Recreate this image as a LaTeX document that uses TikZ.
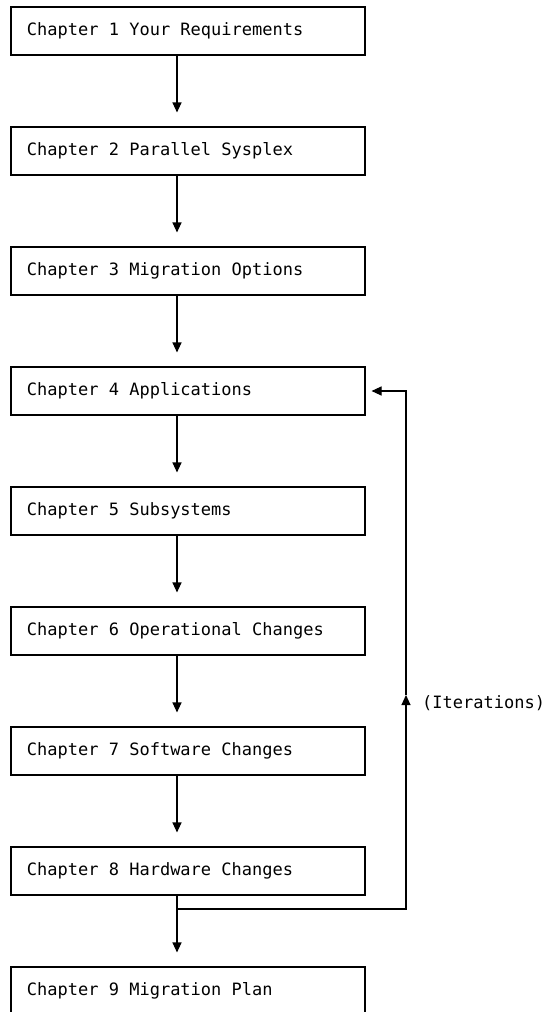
\documentclass[tikz,border=0pt]{standalone}
\usepackage{fontspec}
\setmonofont{DejaVu Sans Mono}
\usetikzlibrary{positioning, arrows.meta}
\tikzset{
  chap/.style={rectangle, draw=black, line width=1.1pt, fill=white,
    text width=322pt, inner xsep=16pt, inner ysep=0pt, minimum height=48pt,
    align=left, font=\fontsize{17}{20}\ttfamily,
    execute at begin node={\spaceskip=10.23pt\relax}},
  flow/.style={-{Triangle[length=10pt, width=9pt]}, line width=1.1pt, black},
  lbl/.style={font=\fontsize{17}{20}\ttfamily, inner sep=3pt},
}
\begin{document}
\begin{tikzpicture}[x=1pt, y=-1pt, node distance=70.9pt]
    \useasboundingbox (0,0) rectangle (546,1012);
    \node[chap] at (188,31) (c1) {Chapter 1 Your Requirements};
    \node[chap, below=of c1] (c2) {Chapter 2 Parallel Sysplex};
    \node[chap, below=of c2] (c3) {Chapter 3 Migration Options};
    \node[chap, below=of c3] (c4) {Chapter 4 Applications};
    \node[chap, below=of c4] (c5) {Chapter 5 Subsystems};
    \node[chap, below=of c5] (c6) {Chapter 6 Operational Changes};
    \node[chap, below=of c6] (c7) {Chapter 7 Software Changes};
    \node[chap, below=of c7] (c8) {Chapter 8 Hardware Changes};
    \node[chap, below=of c8] (c9) {Chapter 9 Migration Plan};
    % arrows run left of the box centres
    \coordinate (spine) at (177,0);
    \draw[flow, shorten >=14pt] (c1.south -| spine) -- (c2.north -| spine);
    \draw[flow, shorten >=14pt] (c2.south -| spine) -- (c3.north -| spine);
    \draw[flow, shorten >=14pt] (c3.south -| spine) -- (c4.north -| spine);
    \draw[flow, shorten >=14pt] (c4.south -| spine) -- (c5.north -| spine);
    \draw[flow, shorten >=14pt] (c5.south -| spine) -- (c6.north -| spine);
    \draw[flow, shorten >=14pt] (c6.south -| spine) -- (c7.north -| spine);
    \draw[flow, shorten >=14pt] (c7.south -| spine) -- (c8.north -| spine);
    \draw[flow, shorten >=14pt] (c8.south -| spine) -- (c9.north -| spine);
    % feedback loop
    \coordinate (br) at (177,909);
    \coordinate (up) at (406,695);
    \draw[flow] (br) -| (up);
    \draw[flow, shorten >=6pt] (up) |- (c4.east);
    \node[lbl, anchor=west, right=13pt of up, yshift=-8pt] (iter) {(Iterations)};
\end{tikzpicture}
\end{document}
